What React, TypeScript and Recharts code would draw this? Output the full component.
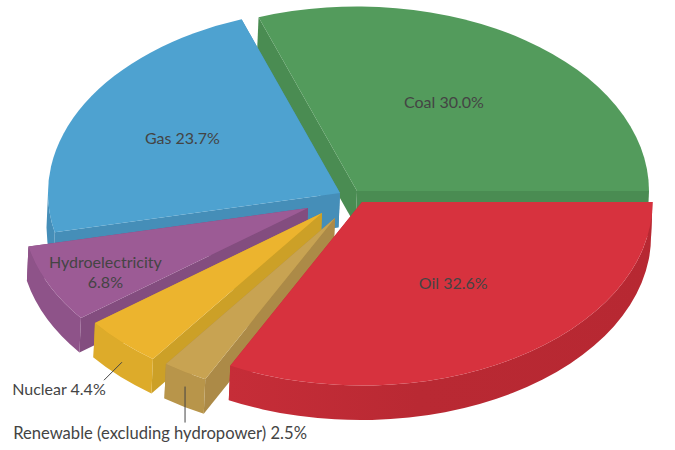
import React from 'react';
import { PieChart, Pie } from 'recharts';

const categories = ['Coal', 'Oil', 'Renewable (excluding hydropower)', 'Nuclear', 'Hydroelectricity', 'Gas'];
const shares = [30.0, 32.6, 2.5, 4.4, 6.8, 23.7];
const data = categories.map((name, i) => ({ name, value: shares[i] }));

// styling, per category
const topColors = ['#539B5C', '#D7323E', '#C8A352', '#ECB42E', '#9C5B95', '#4EA2D0'];
const wallColors = ['#4A8C52', 'url(#oilWall)', '#B8954A', '#DDAB2A', '#8E5389', '#458EB8'];
const sideColors = ['#4A8C52', '#BD2B35', '#AC8A47', '#CCA027', '#834D7F', '#458EB8'];
const pullX = [5, 10, -17, -30, -44, -12];
const pullY = [-5, 6, 22, 17, 12, -3];
const radiusScale = [1, 0.995, 0.98, 0.98, 0.98, 1];
const labelFraction = [0.56, 0.56, 1, 1, 0.78, 0.62];
const labelShiftX = [-8, 5, 4, 1, 2, 1];
const labelShiftY = [-5, -7, 1, -1, 1, 0];
const drawOrder = [0, 5, 4, 3, 2, 1];

// the slight distortion of the tilted view: true angle -> drawn angle
const viewIn = [-18.5, 89.5, 206.9, 256.2, 341.5];
const viewOut = [-19.7, 90, 207, 257.7, 340.3];

const CX = 352;
const CY = 196;
const RX = 292;
const RY = 184.5;
const DEPTH = 34.5;
const DEPTH_X = -1.5;
const FONT = 'Lato, sans-serif';
const INK = '#444444';

const clockwise = (a: number) => 90 - a; // recharts angle -> degrees clockwise from top
function warp(t: number) {
  for (let i = 0; i < viewIn.length - 1; i++) {
    if (t <= viewIn[i + 1] + 0.001) {
      const f = (t - viewIn[i]) / (viewIn[i + 1] - viewIn[i]);
      return viewOut[i] + f * (viewOut[i + 1] - viewOut[i]);
    }
  }
  return t;
}

function pt(ax: number, ay: number, t: number, k: number, drop = 0) {
  const r = (t * Math.PI) / 180;
  return {
    x: ax + k * RX * Math.sin(r) + (drop ? DEPTH_X : 0),
    y: ay - k * RY * Math.cos(r) + drop,
  };
}

function Slice(props: any, idx: number) {
  const { cx, cy, startAngle, endAngle } = props;
  const t1 = warp(clockwise(startAngle));
  const t2 = warp(clockwise(endAngle));
  const ax = cx + pullX[idx];
  const ay = cy + pullY[idx];
  const k = radiusScale[idx];
  const rx = RX * k;
  const ry = RY * k;
  const a = t2 - t1 > 180 ? 1 : 0;
  const p1 = pt(ax, ay, t1, k);
  const p2 = pt(ax, ay, t2, k);
  const q1 = pt(ax, ay, t1, k, DEPTH);
  const q2 = pt(ax, ay, t2, k, DEPTH);
  const low = { x: ax + DEPTH_X, y: ay + DEPTH };
  const side = (p: any, q: any) => `M${ax},${ay}L${p.x},${p.y}L${q.x},${q.y}L${low.x},${low.y}Z`;
  const sides = [
    { key: 's1', d: side(p1, q1), y: p1.y },
    { key: 's2', d: side(p2, q2), y: p2.y },
  ].sort((m, n) => m.y - n.y);
  const norm = (t: number) => ((t % 360) + 360) % 360;
  const n1 = norm(t1);
  const w1 = Math.max(n1, 90);
  const w2 = Math.min(n1 + (t2 - t1), 270);
  let wall = null;
  if (w2 > w1) {
    const u1 = pt(ax, ay, w1, k);
    const u2 = pt(ax, ay, w2, k);
    const v1 = pt(ax, ay, w1, k, DEPTH);
    const v2 = pt(ax, ay, w2, k, DEPTH);
    wall = `M${u1.x},${u1.y}A${rx},${ry} 0 0 1 ${u2.x},${u2.y}L${v2.x},${v2.y}A${rx},${ry} 0 0 0 ${v1.x},${v1.y}Z`;
  }
  return (
    <g>
      <defs>
        <linearGradient id="oilWall" x1="1" y1="0" x2="0" y2="0">
          <stop offset="0" stopColor="#B72832" />
          <stop offset="0.55" stopColor="#B92933" />
          <stop offset="1" stopColor="#C62D38" />
        </linearGradient>
      </defs>
      {sides.map((s) => (
        <path key={s.key} d={s.d} fill={sideColors[idx]} />
      ))}
      {wall && <path d={wall} fill={wallColors[idx]} />}
      <path
        d={`M${ax},${ay}L${p1.x},${p1.y}A${rx},${ry} 0 ${a} 1 ${p2.x},${p2.y}Z`}
        fill={topColors[idx]}
      />
    </g>
  );
}

function Label(props: any) {
  const { cx, cy, midAngle, name, value } = props;
  const idx = categories.indexOf(name);
  const t = clockwise(midAngle);
  const ax = cx + pullX[idx];
  const ay = cy + pullY[idx];
  const f = labelFraction[idx];
  const r = (t * Math.PI) / 180;
  const lx = ax + RX * f * Math.sin(r);
  const ly = ay - RY * f * Math.cos(r);
  const sx = labelShiftX[idx];
  const sy = labelShiftY[idx];
  const pct = `${value.toFixed(1)}%`;
  const style = { fontFamily: FONT, fontSize: 16, fill: INK, fontWeight: 400 };
  if (name === 'Nuclear') {
    return (
      <g>
        <line x1={lx + 2} y1={ly + 16} x2={lx - 16} y2={ly + 34} stroke={INK} strokeWidth={1} />
        <text x={lx - 62 + sx} y={ly + 50 + sy} textAnchor="middle" {...style}>{`${name} ${pct}`}</text>
      </g>
    );
  }
  if (name.startsWith('Renewable')) {
    return (
      <g>
        <line x1={lx + 2} y1={ly + 11} x2={lx + 2} y2={ly + 47} stroke={INK} strokeWidth={1} />
        <text x={lx - 27 + sx} y={ly + 62 + sy} textAnchor="middle" {...style} fontSize={16.6}>{`${name} ${pct}`}</text>
      </g>
    );
  }
  if (name === 'Hydroelectricity') {
    return (
      <text textAnchor="middle" {...style}>
        <tspan x={lx + sx} y={ly - 4 + sy}>{name}</tspan>
        <tspan x={lx + sx} y={ly + 16 + sy}>{pct}</tspan>
      </text>
    );
  }
  return <text x={lx + sx} y={ly + 6 + sy} textAnchor="middle" {...style}>{`${name} ${pct}`}</text>;
}

export default function App() {
  const common = {
    data,
    dataKey: 'value',
    nameKey: 'name',
    cx: CX,
    cy: CY,
    outerRadius: RX,
    startAngle: 108.5,
    endAngle: -251.5,
    paddingAngle: 0,
    stroke: 'none',
    isAnimationActive: false,
  };
  return (
    <div style={{ position: 'absolute', left: 0, top: 0, width: 675, height: 450, background: '#fff' }}>
      <PieChart width={675} height={450} margin={{ top: 0, right: 0, bottom: 0, left: 0 }}>
        {drawOrder.map((k) => (
          <Pie
            key={k}
            {...common}
            labelLine={false}
            shape={(p: any) => (p.name === categories[k] ? Slice(p, k) : <g />)}
          />
        ))}
        <Pie {...common} fill="none" shape={() => <g />} labelLine={false} label={Label} />
      </PieChart>
    </div>
  );
}
